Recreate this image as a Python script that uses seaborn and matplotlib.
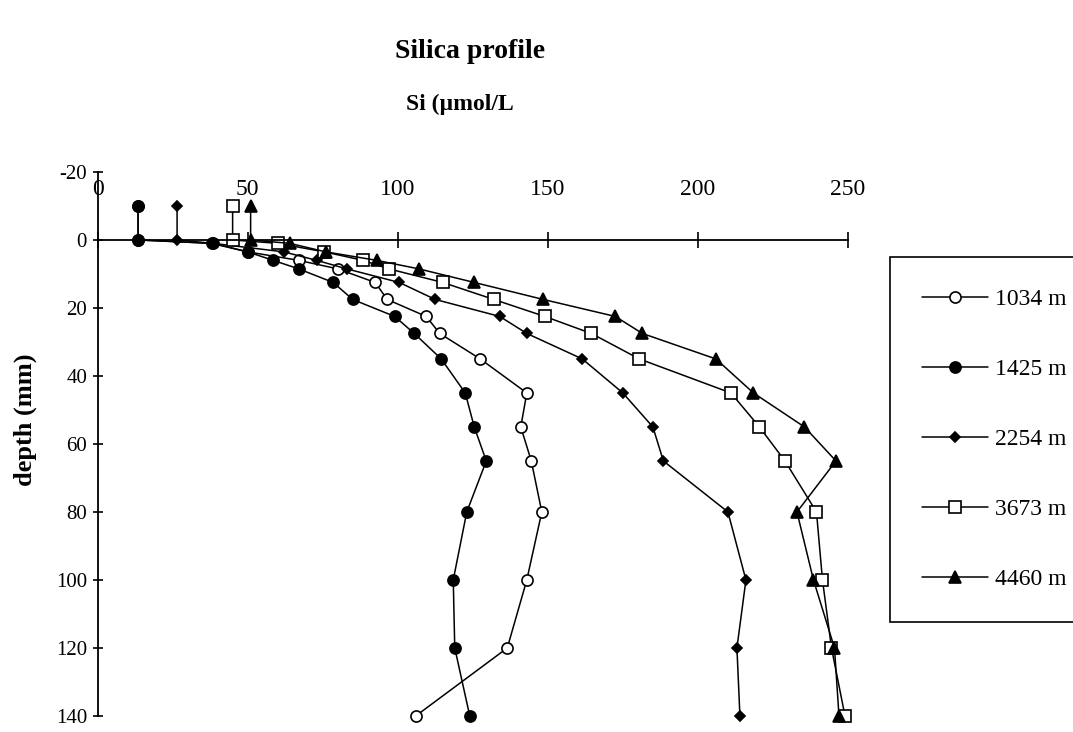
import matplotlib
matplotlib.use("Agg")
import matplotlib.pyplot as plt
import seaborn as sns
import pandas as pd

# ---- data ----
depth = [-10, 0, 1, 3.5, 6, 8.5, 12.5, 17.5, 22.5, 27.5, 35, 45, 55, 65, 80, 100, 120, 140]

si_1034 = [13.5, 13.5, 38, 50, 67, 80, 92.5, 96.5, 109.5, 114, 127.5, 143, 141, 144.5, 148, 143, 136.5, 106]
si_1425 = [13.5, 13.5, 38.5, 50, 58.5, 67, 78.5, 85, 99, 105.5, 114.5, 122.5, 125.5, 129.5, 123, 118.5, 119, 124]
si_2254 = [26.5, 26.5, 38.5, 62, 73, 83, 100.5, 112.5, 134, 143, 161.5, 175, 185, 188.5, 210, 216, 213, 214]
si_3673 = [45, 45, 60, 75.5, 88.5, 97, 115, 132, 149, 164.5, 180.5, 211, 220.5, 229, 239.5, 241.5, 244.5, 249]
si_4460 = [51, 51, 64, 76, 93, 107, 125.5, 148.5, 172.5, 181.5, 206, 218.5, 235.5, 246, 233, 238.5, 245.5, 247]

stations = ["1034 m", "1425 m", "2254 m", "3673 m", "4460 m"]
series = [si_1034, si_1425, si_2254, si_3673, si_4460]

x_ticks = [0, 50, 100, 150, 200, 250]
y_ticks = [-20, 0, 20, 40, 60, 80, 100, 120, 140]

title = "Silica profile"
subtitle = "Si (\u00b5mol/L"
ylabel = "depth (mm)"

# ---- styles ----
styles = [
    dict(marker="o", markersize=8, markerfacecolor="white"),
    dict(marker="o", markersize=8, markerfacecolor="black"),
    dict(marker="D", markersize=5, markerfacecolor="black"),
    dict(marker="s", markersize=8, markerfacecolor="white"),
    dict(marker="^", markersize=8.5, markerfacecolor="black"),
]

sns.set_theme(style="white")
plt.rcParams["font.family"] = ["Liberation Serif", "DejaVu Serif"]
plt.rcParams["axes.unicode_minus"] = False
plt.rcParams["text.color"] = "black"

fig = plt.figure(figsize=(10.73, 7.32), dpi=100)
ax = fig.add_axes([0.0909, 0.0219, 0.6994, 0.7432])

handles = []
for name, vals, st in zip(stations, series, styles):
    df = pd.DataFrame({"si": vals, "depth": depth})
    sns.lineplot(data=df, x="si", y="depth", sort=False, estimator=None,
                 ax=ax, color="black", linewidth=1.1, markeredgecolor="black",
                 markeredgewidth=1.2, clip_on=False, legend=False, **st)
    line = ax.lines[-1]
    line.set_label(name)
    handles.append(line)

ax.set_xlim(0, 250)
ax.set_ylim(140, -20)
ax.set_xticks(x_ticks)
ax.set_yticks(y_ticks)
ax.set_xlabel("")
ax.set_ylabel("")

ax.spines["top"].set_position(("data", 0))
ax.spines["bottom"].set_visible(False)
ax.spines["right"].set_visible(False)
for s in ["top", "left"]:
    ax.spines[s].set_color("black")
    ax.spines[s].set_linewidth(1.3)
ax.xaxis.set_ticks_position("top")
ax.yaxis.set_ticks_position("left")
ax.tick_params(axis="x", direction="inout", length=11, width=1.2, pad=23,
               labelsize=17, colors="black")
ax.tick_params(axis="y", direction="inout", length=7, width=1.2, pad=4,
               labelsize=15, colors="black")
ax.grid(False)

leg = ax.legend(handles, stations, loc="upper left",
                bbox_to_anchor=(890 / 1073, 1 - 257 / 732),
                bbox_transform=fig.transFigure, frameon=True, fancybox=False,
                edgecolor="black", framealpha=1, fontsize=17, labelcolor="black",
                handlelength=2.8, handletextpad=0.3,
                labelspacing=2.05, borderpad=1.35, borderaxespad=0)
leg.get_frame().set_linewidth(1.2)

fig.text(0.438, 0.929, title, ha="center", va="center", fontsize=20,
         fontweight="bold", color="black")
fig.text(0.429, 0.857, subtitle, ha="center", va="center", fontsize=17,
         fontweight="bold", color="black")
fig.text(0.0235, 0.426, ylabel, ha="center", va="center", rotation=90,
         fontsize=19, fontweight="bold", color="black")

fig.savefig("out.png", dpi=100)
